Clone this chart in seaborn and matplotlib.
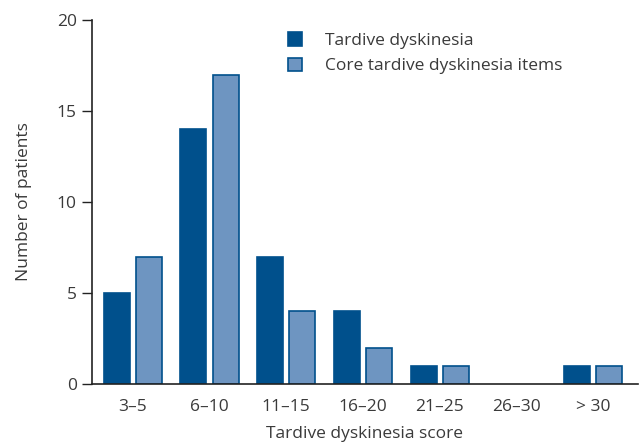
import matplotlib
matplotlib.use("Agg")
import matplotlib.pyplot as plt
import seaborn as sns
import pandas as pd

categories = ["3–5", "6–10", "11–15", "16–20", "21–25", "26–30", "> 30"]
tardive = [5, 14, 7, 4, 1, 0, 1]
core = [7, 17, 4, 2, 1, 0, 1]
series_names = ["Tardive dyskinesia", "Core tardive dyskinesia items"]
y_ticks = [0, 5, 10, 15, 20]

sns.set_style("white")
plt.rcParams['font.family'] = ['Open Sans', 'DejaVu Sans']

df = pd.DataFrame({
    "cat": categories * 2,
    "val": tardive + core,
    "series": [series_names[0]] * len(categories) + [series_names[1]] * len(categories),
})

dark = "#00508C"
light = "#6E95C1"
txt = "#3a3a3a"
fs = 12.5

fig = plt.figure(figsize=(6.39, 4.43), dpi=100)
ax = fig.add_axes([0.144, 0.133, 0.854, 0.822])
sns.barplot(data=df, x="cat", y="val", hue="series", order=categories,
            hue_order=series_names, palette=[dark, light], width=0.84, gap=0.19,
            errorbar=None, ax=ax, saturation=1)
for cont in ax.containers:
    for patch in cont:
        patch.set_edgecolor(dark)
        patch.set_linewidth(1.2)
        if patch.get_height() == 0:
            patch.set_visible(False)

ax.set_xlim(-0.53, 6.58)
ax.set_ylim(0, 20)
ax.set_yticks(y_ticks)
ax.set_yticklabels([str(t) for t in y_ticks])
for s in ["top", "right"]:
    ax.spines[s].set_visible(False)
for s in ["left", "bottom"]:
    ax.spines[s].set_color("#222222")
    ax.spines[s].set_linewidth(1.2)
ax.tick_params(axis="y", left=True, length=7, width=1.0, color="#222222",
               labelsize=fs, labelcolor=txt, pad=4)
ax.tick_params(axis="x", bottom=False, labelsize=fs, labelcolor=txt, pad=7)
ax.set_xlabel("Tardive dyskinesia score", fontsize=fs, color=txt, labelpad=8)
ax.set_ylabel("Number of patients", fontsize=fs, color=txt, labelpad=18)

leg = ax.legend(loc="upper left", bbox_to_anchor=(0.33, 1.01), frameon=False,
                fontsize=fs, handlelength=0.85, handleheight=0.85,
                handletextpad=1.3, labelspacing=0.5)
for t in leg.get_texts():
    t.set_color(txt)
for h in leg.legend_handles:
    h.set_edgecolor(dark)
    h.set_linewidth(1.2)

fig.savefig("out.png", dpi=100)
